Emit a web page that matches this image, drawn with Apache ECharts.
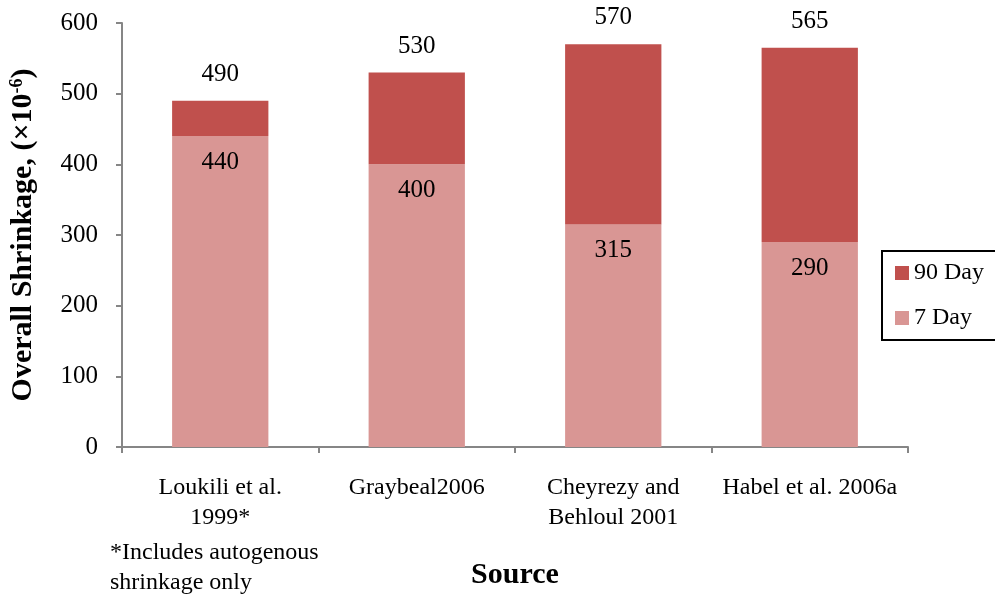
<!DOCTYPE html>
<html><head><meta charset="utf-8">
<script src="https://cdn.jsdelivr.net/npm/echarts@6/dist/echarts.min.js"></script>
<style>html,body{margin:0;padding:0;background:#fff}#c{width:995px;height:601px}</style>
</head><body><div id="c"></div>
<script>
const categories = ['Loukili et al.\n1999*', 'Graybeal2006', 'Cheyrezy and\nBehloul 2001', 'Habel et al. 2006a'];
const sevenDay = [440, 400, 315, 290];
const totals = [490, 530, 570, 565];
const ninetyDay = [50, 130, 255, 275];
const yTicks = [0, 100, 200, 300, 400, 500, 600];

const F = '"Liberation Serif","Times New Roman",serif';
const chart = echarts.init(document.getElementById('c'), null, {renderer: 'canvas'});
chart.setOption({
  animation: false,
  textStyle: {fontFamily: F, color: '#000'},
  grid: {left: 122, right: 87, top: 23, bottom: 154},
  legend: {
    orient: 'vertical', left: 882, top: 251,
    data: ['90 Day', '7 Day'],
    icon: 'rect',
    itemWidth: 14, itemHeight: 14, itemGap: 21,
    borderColor: '#000', borderWidth: 2,
    padding: [10, 40, 10, 13],
    textStyle: {fontFamily: F, fontSize: 24, color: '#000'},
    selectedMode: false
  },
  xAxis: {
    type: 'category', data: categories,
    axisLine: {lineStyle: {color: '#868686', width: 2}},
    axisTick: {show: true, interval: 0, length: 6, lineStyle: {color: '#868686', width: 2}},
    axisLabel: {interval: 0, hideOverlap: false, fontFamily: F, fontSize: 24, color: '#000', margin: 26, lineHeight: 30},
    name: 'Source', nameLocation: 'middle', nameGap: 113,
    nameTextStyle: {fontFamily: F, fontSize: 30, fontWeight: 'bold', color: '#000'}
  },
  yAxis: {
    type: 'value', min: yTicks[0], max: yTicks[yTicks.length - 1], interval: 100,
    splitLine: {show: false},
    axisLine: {show: true, lineStyle: {color: '#868686', width: 2}},
    axisTick: {show: true, length: 6, lineStyle: {color: '#868686', width: 2}},
    axisLabel: {fontFamily: F, fontSize: 25, color: '#000', margin: 24},
    name: 'Overall Shrinkage, (×10{sup|-6})', nameLocation: 'middle', nameGap: 84,
    nameTextStyle: {fontFamily: F, fontSize: 30, fontWeight: 'bold', color: '#000',
      rich: {sup: {fontFamily: F, fontSize: 18, fontWeight: 'bold', verticalAlign: 'top', padding: [0, 0, 12, 0]}}}
  },
  series: [
    {
      name: '7 Day', type: 'bar', stack: 's', data: sevenDay, barWidth: '49%',
      itemStyle: {color: '#D99694'},
      label: {show: true, position: 'insideTop', distance: 14, fontFamily: F, fontSize: 25, color: '#000'}
    },
    {
      name: '90 Day', type: 'bar', stack: 's', data: ninetyDay, barWidth: '49%',
      itemStyle: {color: '#C0504D'},
      label: {show: true, position: 'top', distance: 14, fontFamily: F, fontSize: 25, color: '#000',
        formatter: p => String(totals[p.dataIndex])}
    }
  ],
  graphic: [
    {type: 'text', left: 110, top: 538, style: {text: '*Includes autogenous\nshrinkage only', font: '24px ' + F, fill: '#000', lineHeight: 30}}
  ]
});
</script></body></html>
